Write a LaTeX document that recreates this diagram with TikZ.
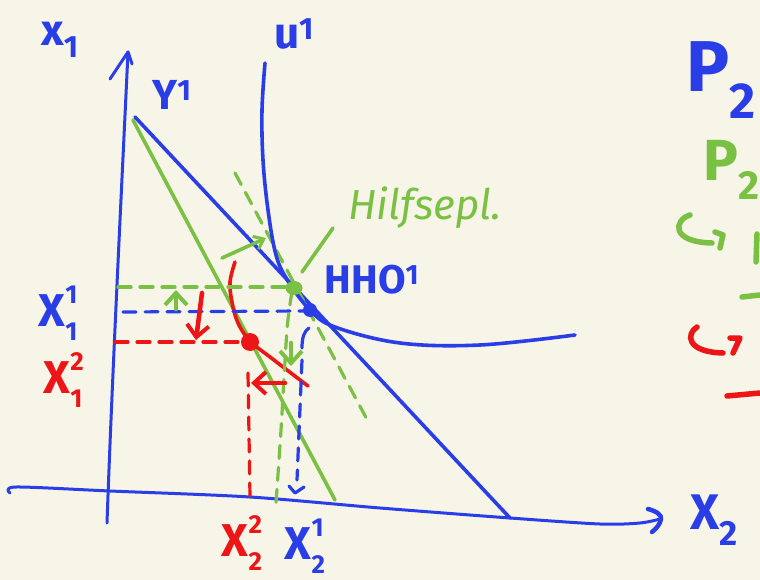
\documentclass[tikz,border=0pt]{standalone}
\usepackage{fontspec}
\setmainfont{Fira Sans}
\usetikzlibrary{arrows.meta}
\definecolor{bg}{RGB}{247,244,232}
\definecolor{pb}{RGB}{42,62,232}
\definecolor{pg}{RGB}{122,192,66}
\definecolor{pr}{RGB}{236,22,22}
\newcommand\fs[1]{\fontsize{#1}{#1}\selectfont}
\newcommand\mysupsub[2]{\rlap{\raisebox{0.5em}{\fs{26}#1}}\raisebox{-0.3em}{\fs{26}#2}}
\begin{document}
\begin{tikzpicture}[x=1pt,y=-1pt,
  pen/.style={line width=3.6pt,line cap=round,line join=round},
  dsh/.style={pen,line width=3.2pt,dash pattern=on 13pt off 9pt},
  tip/.style={-{Straight Barb[length=9pt,width=14pt,line width=3pt]}},
  bigtip/.style={-{Straight Barb[length=12pt,width=22pt,line width=4pt]}},
  lab/.style={inner sep=0pt,anchor=center}]
\fill[bg] (0,0) rectangle (760,580);
\useasboundingbox (0,0) rectangle (760,580);
% coordinates
\coordinate (yb) at (107,523); \coordinate (yt) at (128,52);
\coordinate (b1) at (135,117); \coordinate (b2) at (510,518);
\coordinate (g1) at (133,120); \coordinate (g2) at (335,500);
\coordinate (h1) at (235,173); \coordinate (h2) at (370,425);
% axes
\draw[pen,pb,line width=3pt] (yb) .. controls (112,380) and (122,180) .. (yt);
\draw[pen,pb,line width=3pt] (110,79) -- (yt) -- (132,64);
\draw[pen,pb,line width=3pt] plot[smooth] coordinates {(10,493) (16,487) (110,491) (250,497) (380,508) (510,518) (600,524) (640,523) (660,519)};
\draw[pen,pb,line width=4.5pt] (648,509) .. controls (656,511) and (662,515) .. (661,519) .. controls (660,524) and (657,528) .. (652,532);
% budget lines
\draw[pen,pb] (b1) -- (b2);
\draw[pen,pg] (g1) -- (g2);
\draw[dsh,pg] (h1) -- (h2);
% indifference curves
\draw[pen,pb] plot[smooth,tension=0.6] coordinates {(265,63) (262,110) (263,160) (268,210) (276,255) (288,281) (310,310) (335,327) (400,343) (480,345) (575,335)};
\draw[pen,pr] plot[smooth,tension=0.6] coordinates {(235,262) (230,282) (232,302) (238,323) (250,341) (270,357) (308,386)};
% dashed projections
\draw[dsh,pg] (118,287) -- (293,287);
\draw[dsh,pb] (123,312) -- (305,311);
\draw[dsh,pr] (115,342) -- (248,342);
\draw[dsh,pr] (248,373) -- (250,497);
\draw[dsh,pg] plot[smooth] coordinates {(292,292) (287,330) (281,430) (276,503)};
\draw[pen,pb,line width=3.2pt] (309,328) .. controls (304,331) and (302,338) .. (302,348);
\draw[dsh,pb] (302,360) -- (297,480);
\draw[pen,pb,line width=3.2pt] (289,486) -- (295,493) -- (304,487);
% arrows
\draw[pen,pg,tip] (222,258) -- (266,238);
\draw[pen,pg] (302,272) -- (333,228);
\draw[pen,pr,bigtip,line width=4.6pt] (202,293) -- (196,340);
\draw[pen,pr,bigtip,line width=4.6pt] (285,383) -- (251,383);
\draw[pen,pg,line width=4.6pt,bigtip] (176,309) -- (176,290);
\draw[pen,pg,line width=4.6pt,bigtip] (291,343) -- (291,366);
% points
\fill[pb] (310,310) circle (7pt);
\fill[pg] (294,288) ellipse (8.5pt and 7pt);
\fill[pr] (250,342) circle (9pt);
% labels
\node[lab,text=pb,font=\bfseries\fs{44}] (lx1) at (60,40) {x\textsubscript{1}};
\node[lab,text=pb,font=\bfseries\fs{44}] (lu) at (294,34) {u\textsuperscript{1}};
\node[lab,text=pb,font=\bfseries\fs{42}] (ly) at (172,95) {Y\textsuperscript{1}};
\node[lab,text=pb,font=\bfseries\fs{40}] (lhho) at (372,280) {HHO\textsuperscript{1}};
\node[lab,text=pg,font=\itshape\fs{42}] (lhilf) at (425,208) {Hilfsepl.};
\node[lab,text=pb,font=\bfseries\fs{46}] (lx11) at (58,313) {X\mysupsub{1}{1}};
\node[lab,text=pr,font=\bfseries\fs{46}] (lx12) at (63,380) {X\mysupsub{2}{1}};
\node[lab,text=pr,font=\bfseries\fs{46}] (lx22) at (242,543) {X\mysupsub{2}{2}};
\node[lab,text=pb,font=\bfseries\fs{46}] (lx21) at (305,546) {X\mysupsub{1}{2}};
\node[lab,text=pb,font=\bfseries\fs{50},anchor=west] (lx2) at (690,520) {X\textsubscript{2}};
\node[lab,text=pb,font=\bfseries\fs{72},anchor=west] (lp2) at (686,80) {P\textsubscript{2}};
\node[lab,text=pg,font=\bfseries\fs{58},anchor=west] (lp2g) at (703,170) {P\textsubscript{2}};
% hooks and fragments
\draw[pen,pg,line width=5.5pt] (690,215) .. controls (674,220) and (670,242) .. (712,243);
\draw[pen,pg,line width=5.5pt] (715,232) -- (723,235) -- (720,248);
\draw[pen,pg,line width=5.5pt] (757,234) -- (756,262);
\draw[pen,pg,line width=5.5pt] (742,297) -- (760,295);
\draw[pen,pr,line width=5.5pt] (697,327) .. controls (686,334) and (686,352) .. (723,353);
\draw[pen,pr,line width=5.5pt] (730,338) -- (740,338) -- (733,353);
\draw[pen,pr,line width=5.5pt] (727,396) -- (760,393);
\end{tikzpicture}
\end{document}
